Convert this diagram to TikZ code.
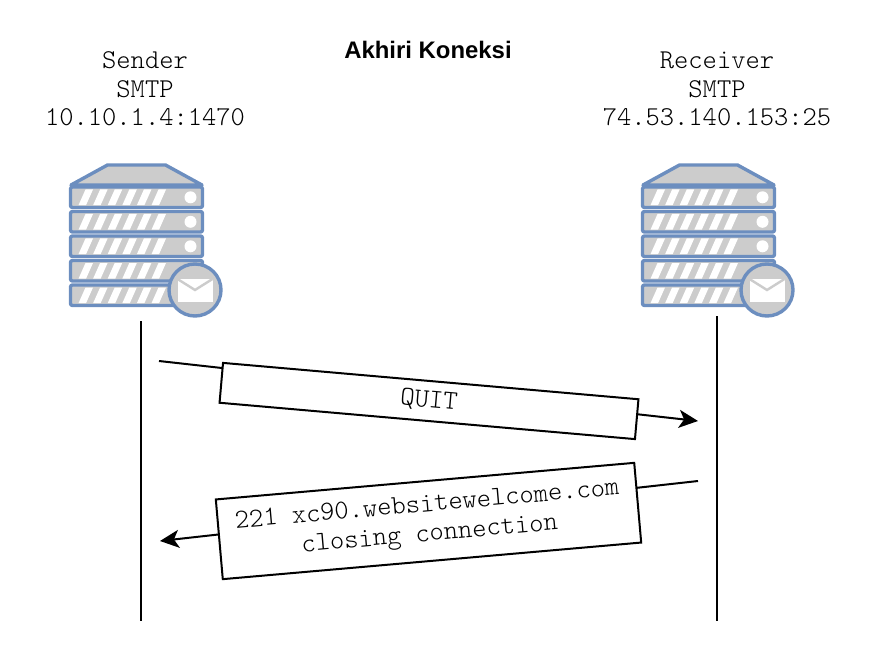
\documentclass[tikz,border=0pt]{standalone}
\usepackage{fontspec}
\setmainfont{Liberation Sans}
\usetikzlibrary{arrows.meta,positioning}
\definecolor{srvblue}{HTML}{6C8EBF}
\definecolor{srvgray}{HTML}{CCCCCC}
\begin{document}
\begin{tikzpicture}
[
	              x = 1pt,
	              y = -1pt,
	              > = {Stealth[length=19pt,width=18pt,inset=5pt]},
	     wire/.style = { line width=2pt },
	    title/.style = { font=\fontsize{23.9}{28}\selectfont\bfseries },
	   header/.style = { font=\fontsize{27.2}{28.5}\selectfont\ttfamily\fontseries{l}\selectfont, align=center },
	  msgbox/.style = { draw=black, fill=white, line width=2pt, inner sep=0pt, align=center,
	                    font=\fontsize{27.2}{29.5}\selectfont\ttfamily\fontseries{l}\selectfont },
	    slab/.style = { draw=srvblue, fill=srvgray, line width=3.4pt, rounded corners=2pt, line join=round },
	pics/mailserver/.style = { code = {
		\draw [slab, rounded corners=0pt] (37,-20) -- (95,-20) -- (131.5,0) -- (0.5,0) -- cycle;
		\foreach \r in {0,1,2,3,4} {
			\draw [slab] (0,{2+24.5*\r}) rectangle (132,{22.5+24.5*\r});
			\foreach \s in {0,1,2,3,4,5}
				\fill [white] ({8+14.6*\s},{20.2+24.5*\r}) -- ({15.5+14.6*\s},{20.2+24.5*\r})
					-- ({22.5+14.6*\s},{4.5+24.5*\r}) -- ({15+14.6*\s},{4.5+24.5*\r}) -- cycle;
		}
		\foreach \r in {0,1,2}
			\fill [white] (120,{12.3+24.5*\r}) circle [radius=6];
		\draw [slab] (124.5,105) circle [radius=26];
		\fill [white] (107,94) rectangle (142,116.5);
		\draw [srvgray, line width=2.4pt] (107,94) -- (124.5,105) -- (142,94);
	}}
]
	\useasboundingbox (0,0) rectangle (880,660);

	% title
	\node (title) at (428,50) [title] {Akhiri Koneksi};

	% hosts
	\node (sender)   at (145,89)  [header] {Sender\\SMTP\\10.10.1.4:1470};
	\node (receiver) at (717,89)  [header] {Receiver\\SMTP\\74.53.140.153:25};
	\pic at (70.5,185)  {mailserver};
	\pic at (642.5,185) {mailserver};

	% lifelines
	\coordinate (S1) at (141,321);
	\coordinate (S2) at (141,621);
	\coordinate (R1) at (717,316);
	\coordinate (R2) at (717,621);
	\draw [wire] (S1) -- (S2);
	\draw [wire] (R1) -- (R2);

	% edges
	\coordinate (Q1) at (159,361);
	\coordinate (Q2) at (698,421);
	\coordinate (C1) at (698,481);
	\coordinate (C2) at (160,541);
	\draw [wire, ->] (Q1) -- (Q2);
	\draw [wire, ->] (C1) -- (C2);

	% messages
	\node (quit)  at (429,401)   [msgbox, rotate=-5, minimum width=417pt, minimum height=40pt] {QUIT};
	\node (close) at (428.5,521) [msgbox, rotate=5, minimum width=420pt, minimum height=80pt]
		{221 xc90.websitewelcome.com\\closing connection};
\end{tikzpicture}
\end{document}
